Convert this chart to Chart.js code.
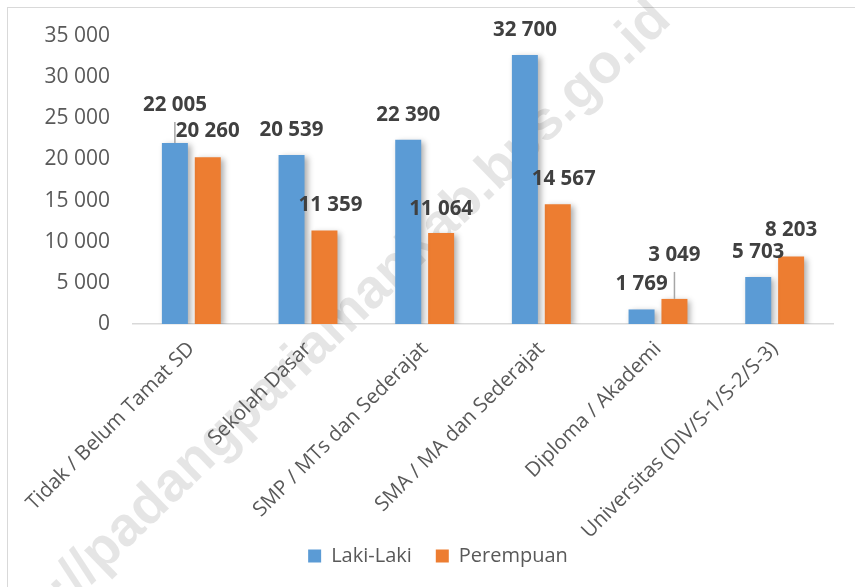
<!DOCTYPE html>
<html>
<head>
<meta charset="utf-8">
<script src="https://cdn.jsdelivr.net/npm/chart.js@4"></script>
<style>
html,body{margin:0;padding:0;background:#fff;}
#wrap{position:relative;width:855px;height:587px;overflow:hidden;background:#fff;}
#frame{position:absolute;left:7px;top:7px;width:900px;height:700px;border-left:1.5px solid #D9D9D9;border-top:1.5px solid #D9D9D9;}
canvas{position:absolute;left:0;top:0;}
</style>
</head>
<body>
<div id="wrap"><div id="frame"></div><canvas id="c" width="855" height="587"></canvas></div>
<script>
const categories = [
  "Tidak / Belum Tamat SD",
  "Sekolah Dasar",
  "SMP / MTs dan Sederajat",
  "SMA / MA dan Sederajat",
  "Diploma / Akademi",
  "Universitas (DIV/S-1/S-2/S-3)"
];
const seriesNames = ["Laki-Laki", "Perempuan"];
const lakiLaki  = [22005, 20539, 22390, 32700, 1769, 5703];
const perempuan = [20260, 11359, 11064, 14567, 3049, 8203];
const yTickValues = [0, 5000, 10000, 15000, 20000, 25000, 30000, 35000];
const watermarkText = "http://padangpariamankab.bps.go.id";

// label nudges (style only): extra offset of each value label, per series
const nudgeX = [[0,0,0,0,0,0],[0,6,0,6,0,0]];
const nudgeY = [[-13,0,0,0,0,0],[-1,0,1,0,-19,-1]];

const fmt = v => String(v).replace(/\B(?=(\d{3})+(?!\d))/g, ' ');
const FONT = '"Open Sans", "DejaVu Sans", sans-serif';

const watermark = {
  id: 'watermark',
  beforeDraw(chart) {
    const c = chart.ctx;
    c.save();
    c.translate(673, 22);
    c.rotate(-44 * Math.PI / 180);
    c.font = 'bold 55px "Liberation Sans", Arial, sans-serif';
    c.fillStyle = 'rgba(0,0,0,0.1)';
    c.textAlign = 'right';
    c.textBaseline = 'alphabetic';
    c.fillText(watermarkText, 0, 0);
    c.restore();
  }
};

const shadow = {
  id: 'barShadow',
  beforeDatasetDraw(chart) {
    const c = chart.ctx;
    c.save();
    c.shadowColor = 'rgba(0,0,0,0.32)';
    c.shadowBlur = 6;
    c.shadowOffsetX = 3;
    c.shadowOffsetY = 2;
  },
  afterDatasetDraw(chart) {
    chart.ctx.restore();
  }
};

// let the rotated category labels run below the axis box (no clipping)
const labelRoom = {
  id: 'labelRoom',
  afterLayout(chart) {
    chart.scales.x.bottom = chart.height;
  }
};

const valueLabels = {
  id: 'valueLabels',
  afterDatasetsDraw(chart) {
    const c = chart.ctx;
    c.save();
    c.font = 'bold 20.5px ' + FONT;
    c.fillStyle = '#404040';
    c.textAlign = 'center';
    c.textBaseline = 'middle';
    chart.data.datasets.forEach((ds, di) => {
      const meta = chart.getDatasetMeta(di);
      meta.data.forEach((bar, i) => {
        const x = bar.x + nudgeX[di][i];
        const y = bar.y - 25 + nudgeY[di][i];
        if (nudgeY[di][i] < -10) {
          c.strokeStyle = '#A6A6A6';
          c.lineWidth = 1.5;
          c.beginPath();
          c.moveTo(bar.x, y + 17);
          c.lineTo(bar.x, bar.y);
          c.stroke();
        }
        c.fillText(fmt(ds.data[i]), x, y);
      });
    });
    c.restore();
  }
};

new Chart(document.getElementById('c'), {
  type: 'bar',
  data: {
    labels: categories,
    datasets: [
      { label: seriesNames[0], data: lakiLaki, backgroundColor: '#5B9BD5', categoryPercentage: 0.564, barPercentage: 0.79 },
      { label: seriesNames[1], data: perempuan, backgroundColor: '#ED7D31', categoryPercentage: 0.564, barPercentage: 0.79 }
    ]
  },
  options: {
    responsive: false,
    animation: false,
    devicePixelRatio: 1,
    layout: { padding: { left: 43, right: 22, top: 36, bottom: 11 } },
    plugins: {
      legend: {
        position: 'bottom',
        labels: {
          font: { family: FONT, size: 20 },
          color: '#595959',
          boxWidth: 13,
          boxHeight: 13,
          padding: 24
        }
      },
      tooltip: { enabled: false }
    },
    scales: {
      x: {
        grid: { display: false, drawTicks: false },
        border: { display: true, color: '#D9D9D9', width: 1.5 },
        ticks: {
          font: { family: FONT, size: 20.5 },
          color: '#595959',
          minRotation: 45,
          maxRotation: 45,
          autoSkip: false,
          padding: 13
        },
        afterFit(s) { s.height = 198; }
      },
      y: {
        min: 0,
        max: 35000,
        grid: { display: false, drawTicks: false },
        border: { display: false },
        afterBuildTicks(s) { s.ticks = yTickValues.map(v => ({ value: v })); },
        ticks: {
          font: { family: FONT, size: 21 },
          color: '#595959',
          padding: 23,
          callback: v => fmt(v)
        },
        afterFit(s) { s.width = 90; }
      }
    }
  },
  plugins: [watermark, shadow, labelRoom, valueLabels]
});
</script>
</body>
</html>
